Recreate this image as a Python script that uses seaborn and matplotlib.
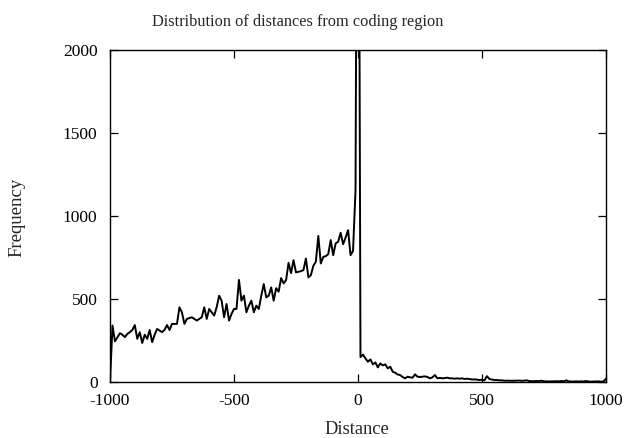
import numpy as np
import pandas as pd
import matplotlib
matplotlib.use("Agg")
import matplotlib.pyplot as plt
import seaborn as sns

distance = list(range(-1000, 1001, 10))

left_freq = [
    0, 340, 245, 270, 294, 285, 270, 290, 300, 313,      # -1000 .. -910
    343, 260, 300, 235, 285, 260, 313, 240, 285, 320,    # -900 .. -810
    310, 300, 315, 343, 313, 350, 350, 350, 450, 420,    # -800 .. -710
    350, 380, 385, 390, 380, 370, 380, 390, 450, 380,    # -700 .. -610
    440, 420, 400, 450, 520, 490, 390, 470, 370, 410,    # -600 .. -510
    440, 440, 615, 490, 520, 420, 460, 490, 420, 460,    # -500 .. -410
    440, 520, 590, 510, 520, 570, 490, 565, 544, 626,    # -400 .. -310
    594, 614, 718, 656, 734, 660, 664, 668, 674, 744,    # -300 .. -210
    630, 644, 700, 724, 880, 714, 754, 758, 770, 855,    # -200 .. -110
    764, 835, 845, 899, 830, 870, 915, 764, 790, 1156,   # -100 .. -10
]
peak_freq = [5000]                                        # 0
right_freq = [
    150, 165, 142, 122, 136, 106, 118, 88, 112, 100,     # 10 .. 100
    106, 82, 92, 62, 56, 45, 42, 30, 22, 32,             # 110 .. 200
    28, 26, 46, 32, 30, 32, 34, 30, 22, 28,              # 210 .. 300
    42, 22, 25, 22, 24, 26, 22, 22, 20, 22,              # 310 .. 400
    20, 22, 18, 20, 18, 15, 16, 14, 12, 14,              # 410 .. 500
    10, 35, 18, 15, 12, 12, 10, 10, 8, 8,                # 510 .. 600
    8, 7, 8, 8, 9, 7, 8, 10, 6, 5,                       # 610 .. 700
    5, 6, 5, 8, 4, 4, 3, 4, 4, 5,                        # 710 .. 800
    4, 6, 4, 10, 4, 3, 3, 4, 3, 4,                       # 810 .. 900
    3, 6, 3, 2, 3, 3, 4, 2, 3, 20,                       # 910 .. 1000
]
frequency = left_freq + peak_freq + right_freq

x_ticks = [-1000, -500, 0, 500, 1000]
y_ticks = [0, 500, 1000, 1500, 2000]

df = pd.DataFrame({"Distance": distance, "Frequency": frequency})

sns.set_style("ticks")
plt.rcParams["font.family"] = ["Liberation Serif", "DejaVu Serif"]
plt.rcParams["xtick.direction"] = "in"
plt.rcParams["ytick.direction"] = "in"

fig = plt.figure(figsize=(6.3, 4.38), dpi=100)
ax = fig.add_axes([110 / 630, 1 - 382 / 438, 496 / 630, 332 / 438])

sns.lineplot(data=df, x="Distance", y="Frequency", ax=ax, color="black",
             linewidth=1.4, clip_on=True)

ax.set_xlim(-1000, 1000)
ax.set_ylim(0, 2000)
ax.set_xticks(x_ticks)
ax.set_yticks(y_ticks)
ax.set_xticklabels([str(t) for t in x_ticks])
ax.set_yticklabels([str(t) for t in y_ticks])
ax.tick_params(axis="both", which="both", direction="in", length=5.5, width=0.9,
               top=True, right=True, labelsize=12.5, pad=8, colors="black")
ax.tick_params(axis="y", pad=9)
for s in ax.spines.values():
    s.set_visible(True)
    s.set_color("black")
    s.set_linewidth(1.0)

ax.set_xlabel("")
ax.set_ylabel("")
fig.text(357 / 630, 1 - 429 / 438, "Distance", ha="center", va="center", fontsize=13.3)
fig.text(17 / 630, 1 - 217 / 438, "Frequency", ha="center", va="center",
         rotation=90, fontsize=13.5)
fig.text(297.5 / 630, 1 - 22 / 438, "Distribution of distances from coding region",
         ha="center", va="center", fontsize=11.8)

fig.savefig("out.png", dpi=100)
